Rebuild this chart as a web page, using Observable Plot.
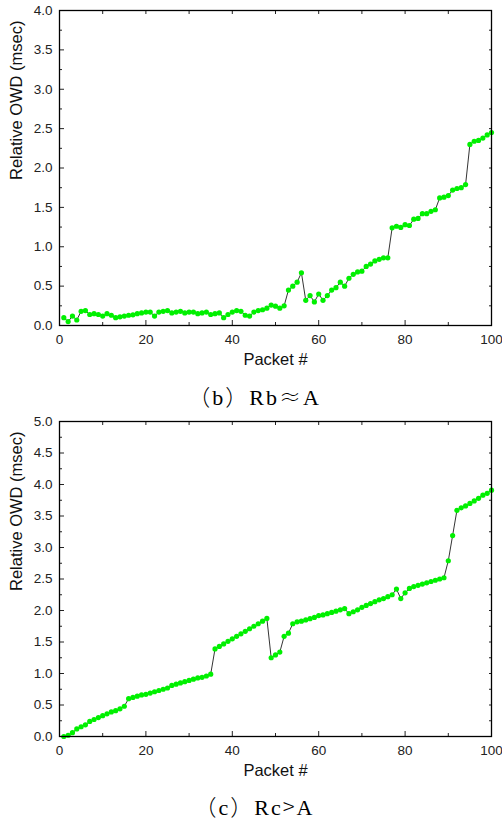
<!DOCTYPE html>
<html><head><meta charset="utf-8">
<script src="https://cdn.jsdelivr.net/npm/d3@7"></script>
<script src="https://cdn.jsdelivr.net/npm/@observablehq/plot@0.6"></script>
<style>
body{margin:0;background:#fff;}
#wrap{position:relative;width:502px;height:821px;overflow:hidden;background:#fff;}
#wrap svg{position:absolute;left:0;}
.cap{position:absolute;left:0;width:509px;text-align:center;font-family:"Liberation Serif","Times New Roman",serif;font-size:22px;line-height:22px;letter-spacing:2px;color:#000;white-space:nowrap;}
.cjk{font-family:"Noto Sans CJK SC",sans-serif;font-weight:300;}
</style></head><body><div id="wrap"></div>
<script>
const packets = [1,2,3,4,5,6,7,8,9,10,11,12,13,14,15,16,17,18,19,20,21,22,23,24,25,26,27,28,29,30,31,32,33,34,35,36,37,38,39,40,41,42,43,44,45,46,47,48,49,50,51,52,53,54,55,56,57,58,59,60,61,62,63,64,65,66,67,68,69,70,71,72,73,74,75,76,77,78,79,80,81,82,83,84,85,86,87,88,89,90,91,92,93,94,95,96,97,98,99,100];

const owdB = [0.10,0.05,0.12,0.07,0.18,0.19,0.14,0.15,0.14,0.12,
  0.15,0.13,0.10,0.11,0.12,0.13,0.135,0.15,0.16,0.17,
  0.17,0.12,0.17,0.18,0.19,0.16,0.17,0.18,0.16,0.17,
  0.17,0.15,0.16,0.17,0.14,0.15,0.16,0.10,0.14,0.17,
  0.19,0.18,0.13,0.12,0.17,0.19,0.20,0.22,0.26,0.245,
  0.22,0.25,0.45,0.50,0.55,0.67,0.32,0.38,0.30,0.40,
  0.32,0.38,0.45,0.48,0.55,0.50,0.60,0.65,0.68,0.69,
  0.75,0.78,0.82,0.84,0.86,0.86,1.24,1.26,1.245,1.28,
  1.27,1.35,1.36,1.42,1.42,1.45,1.47,1.62,1.63,1.65,
  1.72,1.74,1.75,1.79,2.30,2.34,2.35,2.38,2.42,2.45];

const owdC = [0.00,0.02,0.06,0.12,0.155,0.185,0.24,0.27,0.30,0.33,
  0.36,0.39,0.41,0.44,0.48,0.60,0.62,0.64,0.66,0.67,
  0.69,0.71,0.73,0.75,0.77,0.81,0.83,0.85,0.87,0.89,
  0.91,0.93,0.94,0.96,0.99,1.39,1.43,1.47,1.51,1.55,
  1.59,1.63,1.67,1.71,1.75,1.79,1.83,1.875,1.25,1.295,
  1.34,1.59,1.64,1.79,1.82,1.83,1.85,1.87,1.89,1.92,
  1.93,1.95,1.97,1.99,2.01,2.03,1.95,1.98,2.01,2.05,
  2.08,2.11,2.14,2.17,2.19,2.22,2.25,2.34,2.19,2.28,
  2.35,2.38,2.40,2.42,2.44,2.46,2.48,2.50,2.52,2.79,
  3.19,3.59,3.63,3.66,3.70,3.74,3.78,3.83,3.86,3.91];

const xMajor = [0,20,40,60,80,100];
const xMinor = [10,30,50,70,90];
const yMajorB = [0,0.5,1,1.5,2,2.5,3,3.5,4];
const yMinorB = [0.25,0.75,1.25,1.75,2.25,2.75,3.25,3.75];
const yMajorC = [0,0.5,1,1.5,2,2.5,3,3.5,4,4.5,5];
const yMinorC = [0.25,0.75,1.25,1.75,2.25,2.75,3.25,3.75,4.25,4.75];
const xTitle = "Packet #";
const yTitle = "Relative OWD (msec)";
const captionB = ["（", "b", "）", "Rb", "≈", "A"];
const captionC = ["（", "c", "）", "Rc", ">", "A"];

const fmt = d3.format(".1f");
const blank = () => "";

function chart(vals, yDomain, yMajor, yMinor) {
  const data = packets.map((p, i) => ({p, v: vals[i]}));
  return Plot.plot({
    width: 502, height: 375,
    marginTop: 10, marginBottom: 50, marginLeft: 59, marginRight: 11,
    style: {fontFamily: "'Liberation Sans', Arial, sans-serif", fontSize: "13.5px", color: "#222", background: "#fff", overflow: "visible"},
    x: {domain: [0, 100]},
    y: {domain: yDomain},
    marks: [
      Plot.axisX(xMajor, {anchor: "bottom", tickSize: -5, tickPadding: 14, tickFormat: d => String(d), label: null, fontSize: 13.5}),
      Plot.axisX(xMinor, {anchor: "bottom", tickSize: -3, tickFormat: blank, label: null}),
      Plot.axisX(xMajor.concat(xMinor), {anchor: "top", tickSize: -3, tickFormat: blank, label: null}),
      Plot.axisY(yMajor, {anchor: "left", tickSize: -5, tickPadding: 12, tickFormat: fmt, label: null, fontSize: 13.5}),
      Plot.axisY(yMinor, {anchor: "left", tickSize: -3, tickFormat: blank, label: null}),
      Plot.axisY(yMajor.concat(yMinor), {anchor: "right", tickSize: -3, tickFormat: blank, label: null}),
      Plot.line(data, {x: "p", y: "v", stroke: "#000", strokeWidth: 0.8}),
      Plot.dot(data, {x: "p", y: "v", r: 2.6, fill: "#00f000", stroke: "none"}),
      Plot.frame({stroke: "#000", strokeWidth: 1.3}),
      Plot.text([xTitle], {frameAnchor: "bottom", dy: 39, fontSize: 16.5, fill: "#111"}),
      Plot.text([yTitle], {frameAnchor: "left", dx: -43, dy: 12, rotate: -90, fontSize: 16.5, fill: "#111"})
    ]
  });
}

function caption(parts, top) {
  const d = document.createElement("div");
  d.className = "cap";
  d.style.top = top + "px";
  parts.forEach((t, i) => {
    const s = document.createElement("span");
    s.textContent = t;
    if (i === 0 || i === 2 || i === 4) s.className = "cjk";
    d.appendChild(s);
  });
  return d;
}

const wrap = document.getElementById("wrap");
const s1 = chart(owdB, [0, 4], yMajorB, yMinorB);
s1.style.top = "0px";
wrap.appendChild(s1);
wrap.appendChild(caption(captionB, 384));
const s2 = chart(owdC, [0, 5], yMajorC, yMinorC);
s2.style.top = "411px";
wrap.appendChild(s2);
wrap.appendChild(caption(captionC, 794));
</script>
</body></html>
